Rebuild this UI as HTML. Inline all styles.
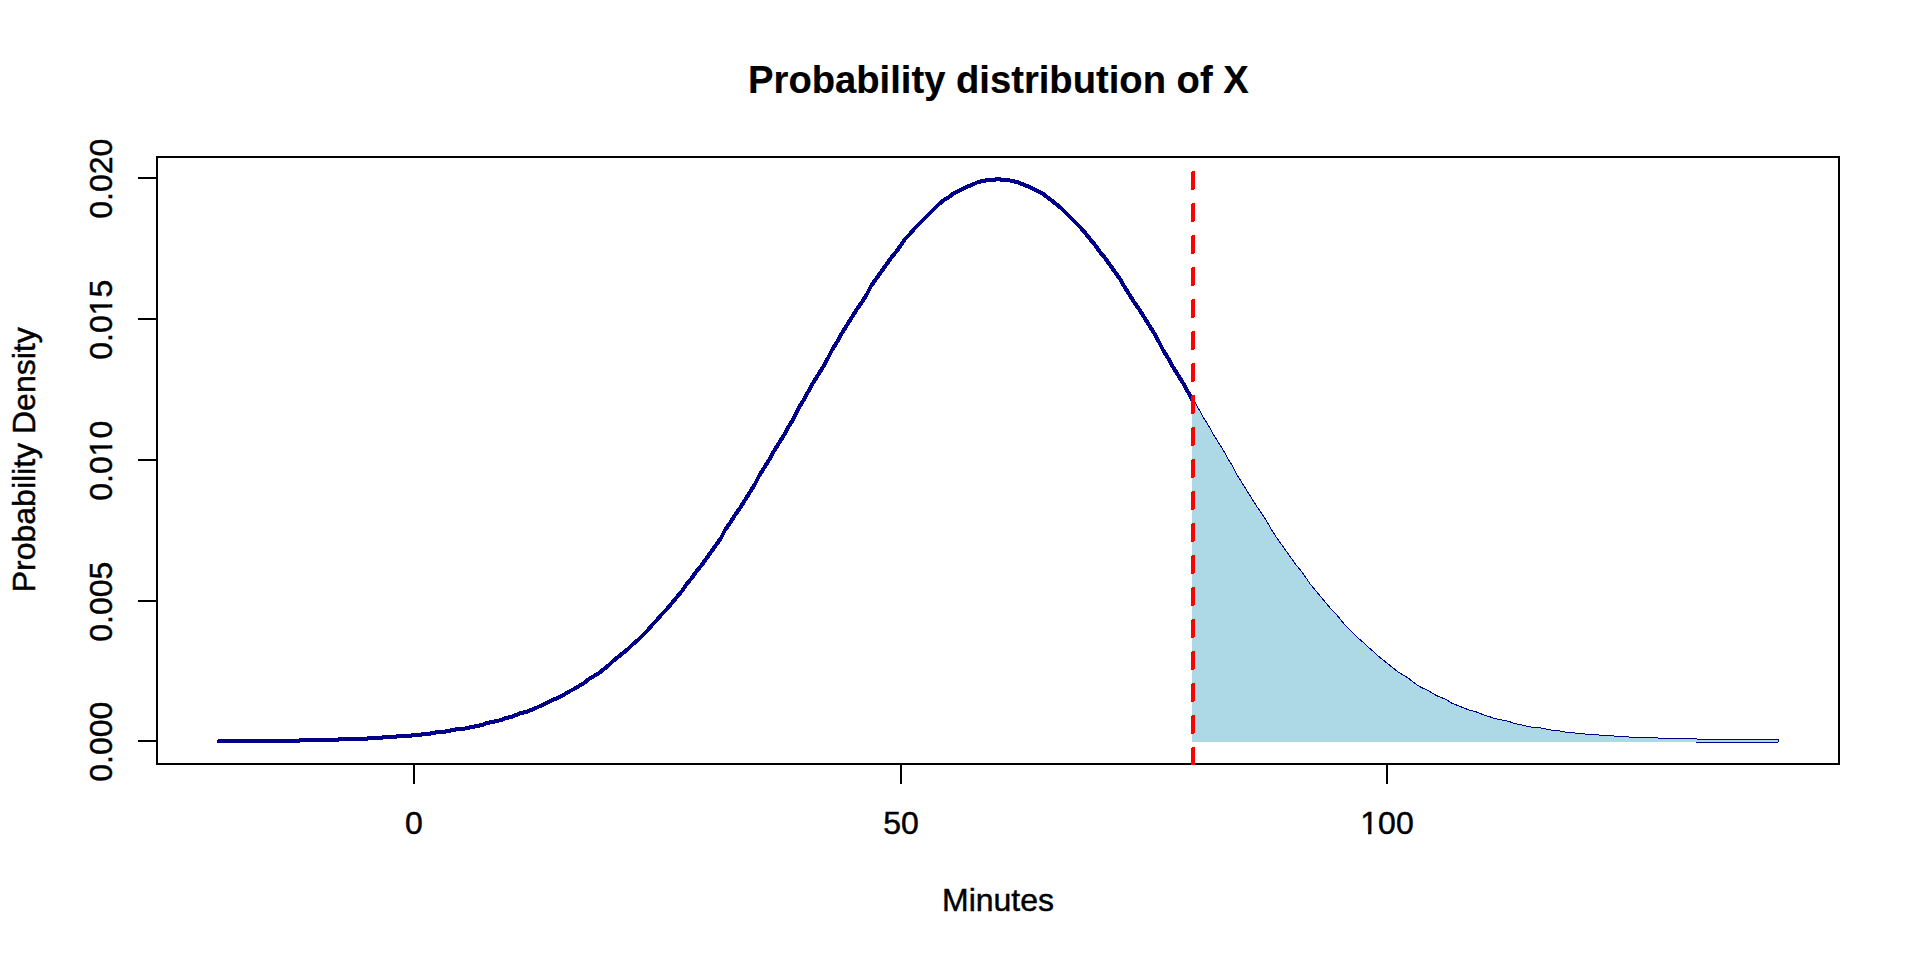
<!DOCTYPE html>
<html lang="en"><head><meta charset="utf-8"><title>Probability distribution of X</title>
<style>
html,body{margin:0;padding:0;background:#fff;}
body{width:1920px;height:960px;overflow:hidden;}
svg{display:block;}
text{font-family:"Liberation Sans",Arial,sans-serif;fill:#000;stroke:#000;stroke-width:0.45px;}
.t{font-size:32px;}
.title{font-size:38.2px;font-weight:bold;stroke-width:0.15px;}
</style></head><body>
<svg width="1920" height="960" viewBox="0 0 1920 960">
<defs><clipPath id="plot"><rect x="156" y="156" width="1684" height="609"/></clipPath><clipPath id="c100"><path clip-rule="evenodd" d="M-60,-40H60V12H-60Z M-25.90,-3.00H-18.88V2H-25.90Z M-15.60,-3.00H-8.90V2H-15.60Z"/></clipPath><clipPath id="c0_010"><path clip-rule="evenodd" d="M-60,-40H60V12H-60Z M5.25,-3.60H12.27V2H5.25Z M15.55,-3.60H22.25V2H15.55Z"/></clipPath><clipPath id="c0_015"><path clip-rule="evenodd" d="M-60,-40H60V12H-60Z M5.25,-3.60H12.27V2H5.25Z M15.55,-3.60H22.25V2H15.55Z"/></clipPath></defs>
<rect x="0" y="0" width="1920" height="960" fill="#fff"/>
<g stroke="#000" stroke-width="2" fill="none" shape-rendering="crispEdges">
<rect x="157" y="157" width="1682" height="607"/>
<line x1="414" y1="764" x2="1387" y2="764"/>
<line x1="414" y1="764" x2="414" y2="784"/>
<line x1="901" y1="764" x2="901" y2="784"/>
<line x1="1387" y1="764" x2="1387" y2="784"/>
<line x1="157" y1="741" x2="157" y2="178"/>
<line x1="138" y1="741" x2="157" y2="741"/>
<line x1="138" y1="601" x2="157" y2="601"/>
<line x1="138" y1="460" x2="157" y2="460"/>
<line x1="138" y1="319" x2="157" y2="319"/>
<line x1="138" y1="178" x2="157" y2="178"/>
</g>
<!-- density curve -->
<polyline points="219,741 224,741 229,741 234,741 239,741 244,741 248,741 253,741 258,741 263,741 268,741 273,741 278,741 283,741 287,741 292,741 297,741 302,740 307,740 312,740 317,740 321,740 326,740 331,740 336,740 341,739 346,739 351,739 356,739 360,739 365,739 370,738 375,738 380,738 385,737 390,737 394,737 399,736 404,736 409,736 414,735 419,735 424,734 428,734 433,733 438,732 443,732 448,731 453,730 458,729 463,729 467,728 472,727 477,726 482,725 487,723 492,722 497,721 501,720 506,718 511,717 516,715 521,713 526,712 531,710 536,708 540,706 545,704 550,701 555,699 560,697 565,694 570,691 574,689 579,686 584,683 589,679 594,676 599,673 604,669 609,665 613,661 618,657 623,653 628,649 633,644 638,640 643,635 648,630 652,625 657,620 662,614 667,609 672,603 677,597 682,591 686,585 691,579 696,572 701,566 706,559 711,552 716,545 721,538 725,530 730,523 735,515 740,508 745,500 750,492 755,484 759,476 764,468 769,460 774,451 779,443 784,435 789,426 794,418 798,409 803,401 808,392 813,383 818,375 823,367 828,358 832,350 837,342 842,333 847,325 852,317 857,309 862,302 867,294 871,286 876,279 881,272 886,265 891,258 896,252 901,245 905,239 910,234 915,228 920,223 925,218 930,213 935,208 939,204 944,200 949,197 954,193 959,191 964,188 969,186 974,184 978,182 983,181 988,180 993,180 998,179 1003,180 1008,180 1012,181 1017,182 1022,184 1027,186 1032,188 1037,191 1042,193 1047,197 1051,200 1056,204 1061,208 1066,213 1071,218 1076,223 1081,228 1086,234 1090,239 1095,245 1100,252 1105,258 1110,265 1115,272 1120,279 1124,286 1129,294 1134,302 1139,309 1144,317 1149,325 1154,333 1159,342 1163,350 1168,358 1173,367 1178,375 1183,383 1188,392 1193,401 1197,409 1202,418 1207,426 1212,435 1217,443 1222,451 1227,460 1232,468 1236,476 1241,484 1246,492 1251,500 1256,508 1261,515 1266,523 1270,530 1275,538 1280,545 1285,552 1290,559 1295,566 1300,572 1305,579 1309,585 1314,591 1319,597 1324,603 1329,609 1334,614 1339,620 1343,625 1348,630 1353,635 1358,640 1363,644 1368,649 1373,653 1377,657 1382,661 1387,665 1392,669 1397,673 1402,676 1407,679 1412,683 1416,686 1421,689 1426,691 1431,694 1436,697 1441,699 1446,701 1450,704 1455,706 1460,708 1465,710 1470,712 1475,713 1480,715 1485,717 1489,718 1494,720 1499,721 1504,722 1509,723 1514,725 1519,726 1524,727 1528,728 1533,729 1538,729 1543,730 1548,731 1553,732 1558,732 1562,733 1567,734 1572,734 1577,735 1582,735 1587,736 1592,736 1597,736 1601,737 1606,737 1611,737 1616,738 1621,738 1626,738 1631,739 1635,739 1640,739 1645,739 1650,739 1655,739 1660,740 1665,740 1669,740 1674,740 1679,740 1684,740 1689,740 1694,740 1699,741 1704,741 1708,741 1713,741 1718,741 1723,741 1728,741 1733,741 1738,741 1742,741 1747,741 1752,741 1757,741 1762,741 1767,741 1772,741 1777,741" fill="none" stroke="#00008B" stroke-width="4" stroke-linejoin="round" stroke-linecap="round" shape-rendering="crispEdges"/>
<!-- shaded tail P(X > 80) -->
<polygon points="1193,741 1193,401 1197,409 1202,418 1207,426 1212,435 1217,443 1222,451 1227,460 1232,468 1236,476 1241,484 1246,492 1251,500 1256,508 1261,515 1266,523 1270,530 1275,538 1280,545 1285,552 1290,559 1295,566 1300,572 1305,579 1309,585 1314,591 1319,597 1324,603 1329,609 1334,614 1339,620 1343,625 1348,630 1353,635 1358,640 1363,644 1368,649 1373,653 1377,657 1382,661 1387,665 1392,669 1397,673 1402,676 1407,679 1412,683 1416,686 1421,689 1426,691 1431,694 1436,697 1441,699 1446,701 1450,704 1455,706 1460,708 1465,710 1470,712 1475,713 1480,715 1485,717 1489,718 1494,720 1499,721 1504,722 1509,723 1514,725 1519,726 1524,727 1528,728 1533,729 1538,729 1543,730 1548,731 1553,732 1558,732 1562,733 1567,734 1572,734 1577,735 1582,735 1587,736 1592,736 1597,736 1601,737 1606,737 1611,737 1616,738 1621,738 1626,738 1631,739 1635,739 1640,739 1645,739 1650,739 1655,739 1660,740 1665,740 1669,740 1674,740 1679,740 1684,740 1689,740 1694,740 1699,741 1704,741 1708,741 1713,741 1718,741 1723,741 1728,741 1733,741 1738,741 1742,741 1747,741 1752,741 1757,741 1762,741 1767,741 1772,741 1777,741 1777,741" fill="#ADD8E6" stroke="#ADD8E6" stroke-width="2" stroke-linejoin="round" shape-rendering="crispEdges"/>
<!-- vertical dashed line at 80 -->
<line x1="1193" y1="764" x2="1193" y2="157" stroke="#FF0000" stroke-width="4" stroke-dasharray="15 17" stroke-linecap="round" clip-path="url(#plot)" shape-rendering="crispEdges"/>
<text class="title" x="998.4" y="93" text-anchor="middle">Probability distribution of X</text>
<text class="t" transform="translate(414,834)" text-anchor="middle">0</text>
<text class="t" transform="translate(901,834)" text-anchor="middle">50</text>
<text class="t" transform="translate(1387,834)" text-anchor="middle" clip-path="url(#c100)">100</text>
<text class="t" x="998" y="911" text-anchor="middle">Minutes</text>
<text class="t" transform="translate(35,459.8) rotate(-90)" text-anchor="middle">Probability Density</text>
<text class="t" transform="translate(111.6,741.7) rotate(-90)" text-anchor="middle">0.000</text>
<text class="t" transform="translate(111.6,601.7) rotate(-90)" text-anchor="middle">0.005</text>
<text class="t" transform="translate(111.6,460.7) rotate(-90)" text-anchor="middle" clip-path="url(#c0_010)">0.010</text>
<text class="t" transform="translate(111.6,319.7) rotate(-90)" text-anchor="middle" clip-path="url(#c0_015)">0.015</text>
<text class="t" transform="translate(111.6,178.7) rotate(-90)" text-anchor="middle">0.020</text>
</svg>
</body></html>
